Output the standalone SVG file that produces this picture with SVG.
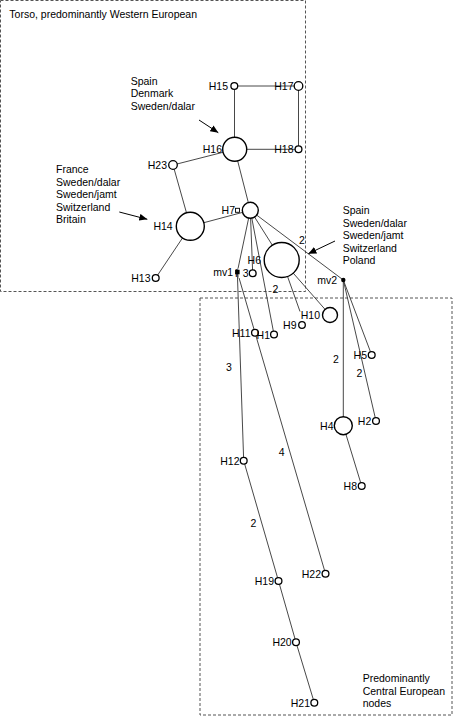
<svg xmlns="http://www.w3.org/2000/svg" width="455" height="718" viewBox="0 0 455 718">
<style>
text{font-family:"Liberation Sans",Arial,sans-serif;font-size:10.5px;fill:#000}
.e{text-anchor:end}
.m{text-anchor:middle}
.c{stroke:#333;stroke-width:0.9;fill:none}
.n{fill:#fff;stroke:#000;stroke-width:1.3}
.b{fill:#fff;stroke:#000;stroke-width:1.4}
.box{fill:none;stroke:#555;stroke-width:1;stroke-dasharray:3,2}
.arr{stroke:#000;stroke-width:1;fill:none;marker-end:url(#ah)}
</style>
<defs>
<marker id="ah" markerUnits="userSpaceOnUse" markerWidth="9" markerHeight="7" refX="8" refY="3.5" orient="auto">
<path d="M0,0 L8,3.5 L0,7 z" fill="#000"/>
</marker>
</defs>
<rect width="455" height="718" fill="#fff"/>
<g id="regions">
<rect class="box" x="0.5" y="0.5" width="305" height="291"/>
<text x="9.3" y="18">Torso, predominantly Western European</text>
<rect class="box" x="200" y="298" width="252" height="417"/>
<text x="362.7" y="682">Predominantly</text>
<text x="362.7" y="694.5">Central European</text>
<text x="362.7" y="707">nodes</text>
</g>
<g id="connectors">
<line class="c" x1="234.3" y1="86" x2="298.5" y2="86"/>
<line class="c" x1="298.5" y1="86" x2="298.5" y2="149.3"/>
<line class="c" x1="234.5" y1="86" x2="234.5" y2="149.3"/>
<line class="c" x1="234.7" y1="149.3" x2="298.5" y2="149.3"/>
<line class="c" x1="234.7" y1="149.3" x2="173" y2="165"/>
<line class="c" x1="234.7" y1="149.3" x2="250.3" y2="210.3"/>
<line class="c" x1="173" y1="165" x2="190.3" y2="226.3"/>
<line class="c" x1="190.3" y1="226.3" x2="250.3" y2="210.3"/>
<line class="c" x1="190.3" y1="226.3" x2="155.7" y2="278"/>
<line class="c" x1="250.3" y1="210.3" x2="237.3" y2="272"/>
<line class="c" x1="250.3" y1="210.3" x2="252.7" y2="273.3"/>
<line class="c" x1="250.3" y1="210.3" x2="274" y2="334.5"/>
<line class="c" x1="250.3" y1="210.3" x2="281.7" y2="260"/>
<line class="c" x1="250.3" y1="210.3" x2="343.3" y2="280"/>
<line class="c" x1="237.3" y1="272" x2="243.7" y2="460.7"/>
<line class="c" x1="237.3" y1="272" x2="255" y2="332.7"/>
<line class="c" x1="255" y1="332.7" x2="325.5" y2="573.7"/>
<line class="c" x1="243.7" y1="460.7" x2="278.5" y2="581"/>
<line class="c" x1="278.5" y1="581" x2="296" y2="642.3"/>
<line class="c" x1="296" y1="642.3" x2="314.3" y2="702.7"/>
<line class="c" x1="281.7" y1="260" x2="300" y2="311.5"/>
<line class="c" x1="281.7" y1="260" x2="330" y2="315"/>
<line class="c" x1="343.3" y1="280" x2="343.3" y2="425.7"/>
<line class="c" x1="343.3" y1="280" x2="371.7" y2="355"/>
<line class="c" x1="343.3" y1="280" x2="376" y2="421"/>
<line class="c" x1="343.3" y1="425.7" x2="361.7" y2="486"/>
<text class="m" x="302" y="244">2</text>
<text class="m" x="275.3" y="293">2</text>
<text class="m" x="229" y="370.5">3</text>
<text class="m" x="281.7" y="456">4</text>
<text class="m" x="253.3" y="527">2</text>
<text class="m" x="336" y="363">2</text>
<text class="m" x="359.3" y="376.5">2</text>
</g>
<g id="annotations">
<text x="130.7" y="84.5">Spain</text>
<text x="130.7" y="97">Denmark</text>
<text x="130.7" y="109.5">Sweden/dalar</text>
<line class="arr" x1="199" y1="120" x2="218.3" y2="132.7"/>
<text x="56" y="173">France</text>
<text x="56" y="185.6">Sweden/dalar</text>
<text x="56" y="198.2">Sweden/jamt</text>
<text x="56" y="210.8">Switzerland</text>
<text x="56" y="223.4">Britain</text>
<line class="arr" x1="119.3" y1="212" x2="147.3" y2="219.3"/>
<text x="342.7" y="214">Spain</text>
<text x="342.7" y="226.6">Sweden/dalar</text>
<text x="342.7" y="239.2">Sweden/jamt</text>
<text x="342.7" y="251.8">Switzerland</text>
<text x="342.7" y="264.4">Poland</text>
<line class="arr" x1="335" y1="241" x2="308.3" y2="253.7"/>
</g>
<g id="H15"><circle class="n" cx="234.3" cy="86" r="3.4"/><text class="e" x="228" y="90">H15</text></g>
<g id="H17"><circle class="n" cx="298.5" cy="86" r="4.3"/><text class="e" x="293.5" y="90">H17</text></g>
<g id="H18"><circle class="n" cx="298.5" cy="149.3" r="3.4"/><text class="e" x="293.5" y="153">H18</text></g>
<g id="H16"><circle class="b" cx="234.7" cy="149.3" r="12"/><text class="e" x="222" y="153">H16</text></g>
<g id="H23"><circle class="n" cx="173" cy="165" r="4.3"/><text class="e" x="167" y="169">H23</text></g>
<g id="H14"><circle class="b" cx="190.3" cy="226.3" r="14"/><text class="e" x="172.7" y="230.3">H14</text></g>
<g id="H13"><circle class="n" cx="155.7" cy="278" r="3.4"/><text class="e" x="150.5" y="282">H13</text></g>
<g id="H7"><circle class="b" cx="250.3" cy="210.3" r="8"/><rect x="235.5" y="208.3" width="4" height="4" fill="#fff" stroke="#000" stroke-width="0.9"/><text class="e" x="235" y="214">H7</text></g>
<g id="H6"><circle class="b" cx="281.7" cy="260" r="17.5"/><text class="e" x="261" y="264">H6</text></g>
<g id="H3"><circle class="n" cx="252.7" cy="273.3" r="3.4"/><text class="e" x="248.5" y="277">H3</text></g>
<g id="mv1"><rect x="238.6" y="268" width="4" height="10" fill="#fff"/><rect x="235.1" y="269.8" width="4.5" height="4.5" fill="#000"/><text class="e" x="233" y="275.5">mv1</text></g>
<g id="mv2"><circle cx="343.3" cy="280" r="2.2" fill="#000"/><text class="e" x="337" y="284">mv2</text></g>
<g id="H10"><circle class="b" cx="330" cy="315" r="7.5"/><text class="e" x="320" y="319">H10</text></g>
<g id="H9"><circle class="n" cx="302" cy="325" r="3.3"/><text class="e" x="296.5" y="328.5">H9</text></g>
<g id="H11"><circle class="n" cx="255" cy="332.7" r="3.4"/><text class="e" x="250.5" y="336.5">H11</text></g>
<g id="H1"><circle class="n" cx="274" cy="334.5" r="3.4"/><text class="e" x="270" y="338.5">H1</text></g>
<g id="H5"><circle class="n" cx="371.7" cy="355" r="3.4"/><text class="e" x="367" y="358.8">H5</text></g>
<g id="H2"><circle class="n" cx="376" cy="421" r="3.4"/><text class="e" x="371.3" y="425">H2</text></g>
<g id="H4"><circle class="b" cx="343.3" cy="425.7" r="9"/><text class="e" x="333.5" y="429.5">H4</text></g>
<g id="H8"><circle class="n" cx="361.7" cy="486" r="3.4"/><text class="e" x="357" y="490">H8</text></g>
<g id="H12"><circle class="n" cx="243.7" cy="460.7" r="3.4"/><text class="e" x="239.5" y="464.5">H12</text></g>
<g id="H22"><circle class="n" cx="325.5" cy="573.7" r="3.4"/><text class="e" x="321" y="577.5">H22</text></g>
<g id="H19"><circle class="n" cx="278.5" cy="581" r="3.4"/><text class="e" x="274" y="585">H19</text></g>
<g id="H20"><circle class="n" cx="296" cy="642.3" r="3.4"/><text class="e" x="291.7" y="646">H20</text></g>
<g id="H21"><circle class="n" cx="314.3" cy="702.7" r="3.4"/><text class="e" x="310" y="706.5">H21</text></g>
</svg>
